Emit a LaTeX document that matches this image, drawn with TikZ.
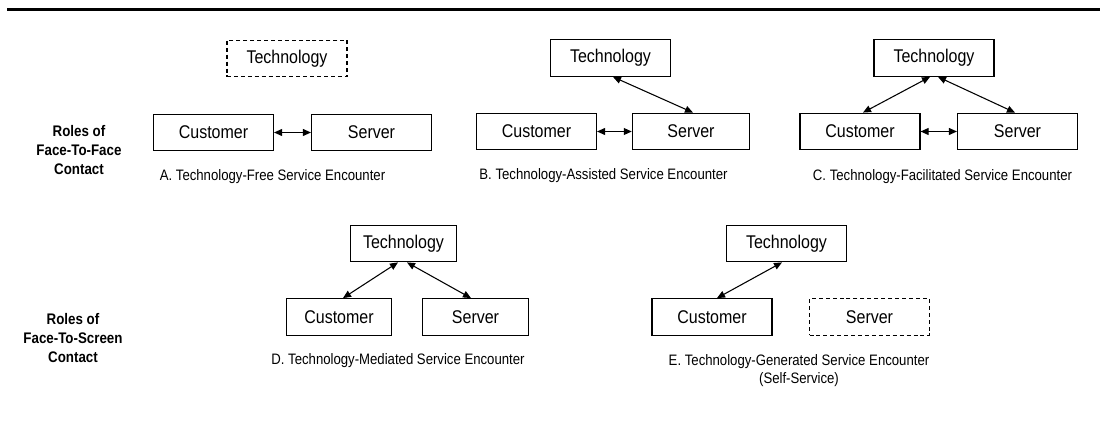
\documentclass[tikz,border=0pt]{standalone}
\usepackage{fontspec}
\setmainfont{Liberation Sans}[FakeStretch=0.87]
\usetikzlibrary{arrows.meta,calc}

\begin{document}
\begin{tikzpicture}[
    x=0.75pt, y=-0.75pt,
    box/.style={draw, line width=0.85pt, inner sep=0pt, minimum height=27.5pt,
                font=\fontsize{13.8}{16}\selectfont},
    absent/.style={box, dash pattern=on 3pt off 2.2pt},
    wide/.style={minimum width=90pt},
    narrow/.style={minimum width=79pt},
    link/.style={line width=0.8pt, {Triangle[length=6pt,width=5.2pt]}-{Triangle[length=6pt,width=5.2pt]}},
    caption/.style={font=\fontsize{11.35}{13.5}\selectfont, align=center, inner sep=0pt},
    role/.style={font=\fontsize{11.5}{14.6}\selectfont\bfseries, align=center, inner sep=0pt}
  ]
  \useasboundingbox (0,0) rectangle (1101,423);

  % heading rule
  \draw[line width=1.9pt] (7,9.5) -- (1100,9.5);

  % row labels
  \node[role] (roleF) at (79,150) {Roles of\\Face-To-Face\\Contact};
  \node[role] (roleS) at (73,338) {Roles of\\Face-To-Screen\\Contact};

  % A. technology-free
  \node[absent, wide] (aT) at (287,58.5) {Technology};
  \node[box, wide] (aC) at (213.5,132.5) {Customer};
  \node[box, wide] (aS) at (371.5,132.5) {Server};
  \draw[link] (aC) -- (aS);
  \node[caption] (aL) at (272.5,177) {A. Technology-Free Service Encounter};

  % B. technology-assisted
  \node[box, wide] (bT) at (610.5,58) {Technology};
  \node[box, wide] (bC) at (536.5,131.5) {Customer};
  \node[box, minimum width=88pt] (bS) at (691,131.5) {Server};
  \draw[link] (bC) -- (bS);
  \draw[link] ($(bT.south)+(2.5,0)$) -- ($(bS.north)+(2,0)$);
  \node[caption] (bL) at (603.5,176) {B. Technology-Assisted Service Encounter};

  % C. technology-facilitated
  \node[box, wide] (cT) at (934,58) {Technology};
  \node[box, wide] (cC) at (860,131.5) {Customer};
  \node[box, wide] (cS) at (1017.5,131.5) {Server};
  \draw[link] (cC) -- (cS);
  \draw[link] ($(cT.south)+(-4,0)$) -- ($(cC.north)+(3,0)$);
  \draw[link] ($(cT.south)+(4,0)$) -- ($(cS.north)+(-2.5,0)$);
  \node[caption] (cL) at (942.5,177) {C. Technology-Facilitated Service Encounter};

  % D. technology-mediated
  \node[box, narrow] (dT) at (403.5,243.5) {Technology};
  \node[box, narrow] (dC) at (339,317) {Customer};
  \node[box, narrow] (dS) at (475.5,317) {Server};
  \draw[link] ($(dT.south)+(-5.5,0)$) -- ($(dC.north)+(4,0)$);
  \draw[link] ($(dT.south)+(3.5,0)$) -- ($(dS.north)+(-4.5,0)$);
  \node[caption] (dL) at (398,361) {D. Technology-Mediated Service Encounter};

  % E. technology-generated
  \node[box, wide] (eT) at (786.5,243.5) {Technology};
  \node[box, wide] (eC) at (712,317) {Customer};
  \node[absent, wide] (eS) at (869.5,317) {Server};
  \draw[link] ($(eT.south)+(-4.5,0)$) -- ($(eC.north)+(5,0)$);
  \node[caption] (eL) at (799,371) {E. Technology-Generated Service Encounter\\(Self-Service)};
\end{tikzpicture}
\end{document}
